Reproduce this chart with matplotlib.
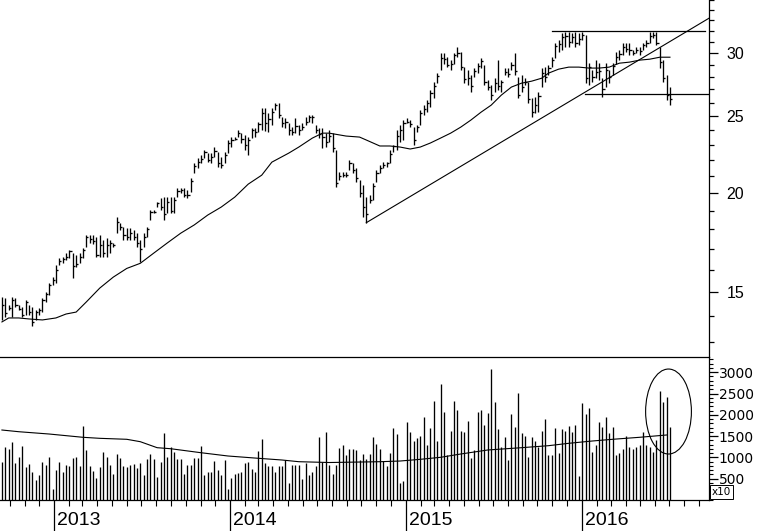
import matplotlib
matplotlib.use('Agg')
import matplotlib.pyplot as plt
import matplotlib.dates as mdates
import matplotlib.transforms as mtrans
from matplotlib.patches import Ellipse
from matplotlib.ticker import FixedLocator, NullFormatter, FixedFormatter
import pandas as pd

# ---------------- data (weekly bars) ----------------
high = [14.79, 14.74, 14.45, 14.79, 14.74, 14.45, 14.37, 14.66, 14.45, 14.37,
        14.24, 14.33, 14.74, 15.00, 15.40, 15.67, 16.21, 16.56, 16.61, 16.80,
        16.95, 16.80, 16.70, 16.80, 17.05, 17.70, 17.70, 17.70, 17.60, 17.70,
        17.45, 17.55, 17.45, 17.30, 18.65, 18.33, 18.12, 18.07, 18.07, 17.96,
        17.80, 17.45, 17.80, 18.12, 19.03, 19.03, 19.48, 19.70, 19.76, 19.76,
        19.76, 19.76, 20.29, 20.29, 20.29, 20.17, 20.88, 21.80, 22.13, 22.33,
        22.65, 22.45, 22.45, 22.85, 22.52, 22.20, 22.52, 23.32, 23.52, 23.52,
        24.00, 23.79, 23.66, 23.52, 24.14, 24.14, 24.57, 25.58, 25.58, 25.20,
        25.58, 25.95, 25.95, 24.92, 24.85, 24.50, 24.21, 24.85, 24.35, 24.50,
        24.92, 25.06, 25.06, 24.35, 24.14, 24.14, 23.79, 24.00, 23.79, 22.65,
        21.25, 21.25, 21.25, 22.00, 21.80, 21.49, 20.76, 20.46, 19.76, 19.88,
        20.58, 21.37, 21.68,
        21.87, 21.87, 22.65, 22.99, 24.00, 24.35, 24.71, 24.85, 24.71, 24.21,
        24.35, 25.43, 25.80, 26.18, 26.95, 27.58, 28.31, 30.00, 30.00, 29.65,
        29.40, 30.00, 30.53, 30.09, 28.81, 28.56, 28.15, 28.73, 29.14, 29.57,
        28.98,
        27.74, 27.35, 27.90, 29.40, 27.74, 28.73, 28.73, 29.23, 30.00, 27.98,
        28.15, 27.90, 27.58, 26.33, 26.41, 26.80, 28.73, 28.81, 28.98, 29.65,
        30.88, 31.15, 31.78, 31.88, 31.88, 31.78, 31.88, 31.78, 31.88,
        31.60,
        29.14, 28.56, 29.40, 29.14, 27.90, 29.14, 28.56, 29.14, 30.09, 30.26,
        30.88, 30.88, 30.88, 30.26, 30.53, 30.53, 30.88, 31.15,
        31.88, 31.88, 31.88, 30.53, 29.40, 28.15, 27.20]

low = [13.84, 13.96, 14.24, 13.96, 14.37, 14.24, 13.96, 14.04, 14.04, 13.60,
       13.84, 14.04, 14.16, 14.58, 14.87, 15.31, 15.40, 16.21, 16.31, 16.46,
       16.56, 15.63, 16.13, 16.31, 16.56, 17.10, 17.30, 17.25, 16.61, 16.61,
       16.61, 16.61, 16.80, 17.10, 17.80, 17.96, 17.45, 17.45, 17.45, 17.45,
       17.10, 16.36, 17.10, 17.60, 18.49, 18.86, 19.20, 19.03, 18.49, 18.86,
       18.86, 18.86, 19.76, 20.00, 19.76, 19.70, 20.05, 21.18, 21.49, 21.80,
       22.13, 21.87, 21.80, 22.20, 21.56, 21.49, 21.80, 22.45, 22.85, 23.32,
       23.52, 23.12, 22.65, 22.33, 23.45, 23.52, 23.86, 24.00, 23.93, 23.86,
       24.35, 25.43, 24.85, 24.21, 24.14, 23.66, 23.66, 23.79, 23.66, 24.00,
       24.35, 24.57, 24.50, 23.79, 23.45, 22.78, 22.85, 23.19, 22.52, 20.35,
       20.76, 20.94, 20.94, 21.37, 21.18, 20.64, 19.76, 18.65, 18.33, 19.42,
       19.59, 20.64, 21.18,
       21.49, 21.56, 21.80, 22.52, 22.65, 23.19, 23.32, 24.50, 24.21, 22.99,
       23.86, 24.35, 25.06, 25.28, 25.65, 26.33, 27.50, 28.56, 29.06, 28.81,
       28.56, 29.06, 29.65, 28.56, 27.50, 27.35, 26.80, 27.98, 28.31, 28.73,
       27.35,
       26.95, 26.18, 26.80, 26.95, 26.80, 28.15, 27.98, 28.56, 28.15, 26.33,
       26.80, 27.35, 25.95, 24.92, 25.20, 25.28, 27.19, 27.58, 28.15, 28.81,
       29.57, 30.09, 30.26, 30.53, 30.53, 30.88, 30.53, 30.71, 31.15,
       27.50,
       27.35, 27.58, 27.90, 27.74, 26.41, 27.19, 27.50, 28.15, 29.06, 29.40,
       29.82, 30.09, 29.82, 29.82, 30.00, 29.82, 30.26, 30.53,
       30.88, 31.33, 30.71, 28.73, 27.58, 26.18, 25.80]

close = [14.45, 14.12, 14.33, 14.66, 14.45, 14.28, 14.04, 14.58, 14.16, 13.76,
         14.16, 14.24, 14.66, 14.91, 15.31, 15.54, 15.99, 16.40, 16.50, 16.60,
         16.90, 16.20, 16.30, 16.60, 16.95, 17.60, 17.50, 17.40, 16.70, 17.20,
         16.80, 17.20, 17.30, 17.20, 18.40, 18.10, 17.70, 17.60, 17.80, 17.60,
         17.30, 17.00, 17.60, 18.00, 18.90, 18.95, 19.40, 19.20, 18.80, 19.50,
         19.00, 19.60, 20.10, 20.20, 19.90, 19.90, 20.70, 21.60, 21.90, 22.10,
         22.50, 22.00, 22.20, 22.60, 21.80, 21.70, 22.30, 23.10, 23.30, 23.40,
         23.80, 23.40, 23.00, 23.30, 24.00, 23.90, 24.40, 25.20, 24.50, 24.80,
         25.30, 25.80, 25.10, 24.50, 24.60, 24.00, 23.90, 24.30, 24.00, 24.20,
         24.60, 24.90, 24.90, 24.00, 23.70, 23.50, 23.20, 23.60, 22.80, 20.60,
         21.00, 21.10, 21.10, 21.80, 21.40, 20.90, 20.00, 19.20, 18.80, 19.60,
         20.40, 21.20, 21.50,
         21.70, 21.80, 22.40, 22.90, 23.60, 24.00, 24.50, 24.60, 24.40, 23.30,
         24.20, 25.20, 25.50, 26.00, 26.70, 27.30, 28.10, 29.60, 29.50, 29.00,
         29.10, 29.80, 30.00, 28.80, 27.80, 27.90, 27.30, 28.50, 28.90, 29.30,
         27.60,
         27.20, 26.60, 27.50, 27.30, 27.60, 28.40, 28.20, 29.00, 28.50, 26.60,
         27.20, 27.60, 26.30, 25.30, 25.80, 26.50, 28.30, 28.00, 28.70, 29.40,
         30.60, 30.80, 31.40, 31.50, 31.00, 31.40, 30.90, 31.30, 31.60,
         27.90,
         28.80, 28.00, 28.40, 28.50, 27.00, 28.60, 28.00, 28.90, 29.70, 29.90,
         30.50, 30.40, 30.30, 30.00, 30.30, 30.20, 30.70, 30.90,
         31.50, 31.60, 30.90, 29.20, 27.90, 26.60, 26.30]

volume = [899, 1251, 1189, 1369, 876, 1017, 1267, 782, 845, 665,
          469, 587, 899, 821, 1017, 250, 704, 899, 665, 821,
          798, 978, 1017, 798, 1736, 1173, 798, 688, 524, 782,
          1134, 1017, 821, 610, 1079, 978, 798, 782, 821, 845,
          743, 860, 587, 954, 1079, 954, 547, 899, 1580, 1001,
          1251, 1134, 954, 954, 610, 821, 821, 993, 978, 1267,
          587, 665, 665, 923, 704, 587, 938, 266, 508, 610,
          626, 665, 860, 899, 719, 665, 1157, 1423, 860, 798,
          798, 665, 798, 798, 938, 407, 821, 821, 821, 485,
          860, 587, 665, 798, 1470, 899, 1603, 821, 610, 821,
          1212, 1290, 1056, 1189, 1189, 1173, 938, 1079, 954, 1079,
          1470, 1314, 1189,
          915, 798, 1095, 1681, 1548, 407, 446, 1838, 1603, 1392,
          1447, 1501, 1939, 1290, 1681, 2330, 1392, 2721, 2072, 1056,
          1627, 2323, 2111, 1627, 1603, 1861, 978, 1173, 2072, 2111,
          1760, 2033, 3073, 2307, 1658, 1251, 1470, 938, 2018, 1705,
          2518, 1564, 1501, 1017, 1470, 1392, 1236, 1627, 1892, 1056,
          1056, 1681, 1095, 1658, 1627, 1736, 1595, 1760, 563, 2268,
          2018, 2166, 1134, 1290, 1822, 1705, 1939, 1564, 1720, 1056,
          1095, 1189, 1501, 1236, 1189, 1251, 1290, 1603, 1290, 1236,
          1134, 1408, 2565, 2307, 2424, 1720]

# moving average of price, read at selected bars (bar index, value)
ma_idx = [0, 2, 5, 8, 12, 16, 19, 22, 25, 29, 33, 37, 41, 45, 49, 53, 57, 61, 65, 69,
          73, 77, 80, 85, 88, 92, 95, 97, 102, 106, 108, 112, 115, 118, 121, 124, 127,
          130, 133, 136, 139, 142, 145, 148, 151, 154, 157, 160, 162, 165, 168, 171,
          174, 177, 180, 183, 186, 189, 192, 195, 198]
ma_val = [13.76, 13.92, 13.92, 13.88, 13.84, 13.92, 14.08, 14.16, 14.58, 15.18,
          15.67, 16.07, 16.31, 16.80, 17.30, 17.80, 18.23, 18.76, 19.20, 19.76,
          20.52, 21.06, 21.87, 22.45, 22.85, 23.45, 23.79, 23.79, 23.59, 23.52,
          23.32, 22.92, 22.92, 22.85, 22.72, 22.85, 23.12, 23.45, 23.79, 24.21,
          24.71, 25.28, 25.80, 26.56, 27.19, 27.50, 27.66, 27.90, 28.31, 28.64,
          28.81, 28.81, 28.73, 28.73, 28.81, 29.14, 29.23, 29.40, 29.48, 29.65, 29.65]

# moving average of volume
vma_idx = [0, 5, 14, 24, 29, 37, 41, 46, 50, 59, 67, 76, 83, 88, 97, 112, 118, 124,
           130, 136, 144, 154, 162, 168, 175, 181, 189, 197]
vma_val = [1643, 1603, 1549, 1472, 1448, 1425, 1369, 1228, 1204, 1110, 1033, 979,
           939, 899, 880, 899, 915, 955, 1002, 1080, 1174, 1228, 1275, 1331, 1385,
           1425, 1472, 1526]

# hand-drawn annotations (date, price)
trend_dates = ['2014-10-11', '2016-09-21']
trend_prices = [18.35, 33.2]
top_dates = ['2015-10-31', '2016-09-13']
top_prices = [31.95, 31.95]
bottom_dates = ['2016-01-08', '2016-09-21']
bottom_prices = [26.66, 26.66]
ellipse_center = ('2016-06-29', 2077)
ellipse_size_days = 95
ellipse_size_vol = 1995

price_ticks = [15, 20, 25, 30]
price_minor = [13, 14, 16, 17, 18, 19, 21, 22, 23, 24, 26, 27, 28, 29, 31, 32, 33, 34, 35]
vol_ticks = [500, 1000, 1500, 2000, 2500, 3000]
year_labels = ['2013', '2014', '2015', '2016']

# ---------------- drawing ----------------
dates = pd.date_range('2012-09-15', periods=len(close), freq='7D')
x = mdates.date2num(dates)

W, H = 760, 531
fig = plt.figure(figsize=(W / 100, H / 100), dpi=100)
fig.patch.set_facecolor('white')
axp = fig.add_axes([0, 1 - 357 / H, 709 / W, 357 / H])
axv = fig.add_axes([0, 1 - 500 / H, 709 / W, 143 / H], sharex=axp)
axp.patch.set_alpha(0)
axv.patch.set_alpha(0)

lw = 0.95
# price bars
axp.vlines(x, low, high, color='black', lw=lw)
axp.hlines(close, x, x + 4.5, color='black', lw=lw)
# moving average
axp.plot(mdates.date2num(dates[ma_idx]), ma_val, color='black', lw=0.8)
# annotations
axp.plot(mdates.date2num(pd.to_datetime(trend_dates)), trend_prices, color='black', lw=0.8, clip_on=False)
axp.plot(mdates.date2num(pd.to_datetime(top_dates)), top_prices, color='black', lw=0.9)
axp.plot(mdates.date2num(pd.to_datetime(bottom_dates)), bottom_prices, color='black', lw=0.9)

axp.set_yscale('log')
axp.set_ylim(12.43, 35.0)
axp.set_xlim(mdates.date2num(pd.Timestamp('2012-09-11')), mdates.date2num(pd.Timestamp('2016-09-21')))
axp.yaxis.tick_right()
axp.yaxis.set_major_locator(FixedLocator(price_ticks))
axp.yaxis.set_major_formatter(FixedFormatter([str(t) for t in price_ticks]))
axp.yaxis.set_minor_locator(FixedLocator(price_minor))
axp.yaxis.set_minor_formatter(NullFormatter())
axp.tick_params(axis='y', which='major', length=6.5, width=0.9, pad=6, labelsize=11.5,
                direction='out', color='black')
axp.tick_params(axis='y', which='minor', length=3.5, width=0.9, direction='out', color='black')
axp.tick_params(axis='x', which='both', bottom=False, labelbottom=False)
for lab in axp.get_yticklabels():
    lab.set_family(['Liberation Sans Narrow', 'Liberation Sans', 'DejaVu Sans'])
for s in ['top', 'left', 'bottom']:
    axp.spines[s].set_visible(False)
axp.spines['right'].set_linewidth(0.9)

# volume
axv.vlines(x, 0, volume, color='black', lw=lw)
axv.plot(mdates.date2num(dates[vma_idx]), vma_val, color='black', lw=0.8)
c = mdates.date2num(pd.Timestamp(ellipse_center[0]))
axv.add_patch(Ellipse((c, ellipse_center[1]), ellipse_size_days, ellipse_size_vol,
                      fill=False, ec='black', lw=0.8))
axv.set_ylim(0, 3357)
axv.yaxis.tick_right()
axv.yaxis.set_major_locator(FixedLocator(vol_ticks))
axv.yaxis.set_major_formatter(FixedFormatter([str(t) for t in vol_ticks]))
axv.yaxis.set_minor_locator(FixedLocator(list(range(0, 3400, 100))))
axv.yaxis.set_minor_formatter(NullFormatter())
axv.tick_params(axis='y', which='major', length=6.5, width=0.9, pad=0.5, labelsize=10,
                direction='out', color='black')
axv.tick_params(axis='y', which='minor', length=3.2, width=0.8, direction='out', color='black')
axv.spines['left'].set_visible(False)
for s in ['top', 'bottom', 'right']:
    axv.spines[s].set_linewidth(0.9)
    axv.spines[s].set_color('black')

years = pd.to_datetime([y + '-01-01' for y in year_labels])
months = pd.date_range('2012-10-01', '2016-09-01', freq='MS')
axv.xaxis.set_major_locator(FixedLocator(mdates.date2num(years)))
axv.xaxis.set_minor_locator(FixedLocator(mdates.date2num(months)))
axv.tick_params(axis='x', which='major', length=22, width=0.9, direction='out', labelbottom=False)
axv.tick_params(axis='x', which='minor', length=4.5, width=0.8, direction='out')
trans = mtrans.blended_transform_factory(axv.transData, axv.transAxes)
for yd, lab in zip(years, year_labels):
    axv.text(mdates.date2num(yd) + 6, -0.14, lab, transform=trans, ha='left', va='center',
             fontsize=14, family=['Liberation Sans', 'DejaVu Sans'], clip_on=False)

# "x10" multiplier box
fig.text(712 / W, 1 - 492 / H, 'x10', fontsize=7.5, ha='left', va='center',
         bbox=dict(boxstyle='square,pad=0.15', fc='white', ec='black', lw=0.7))

fig.savefig('out.png', dpi=100, facecolor='white')
